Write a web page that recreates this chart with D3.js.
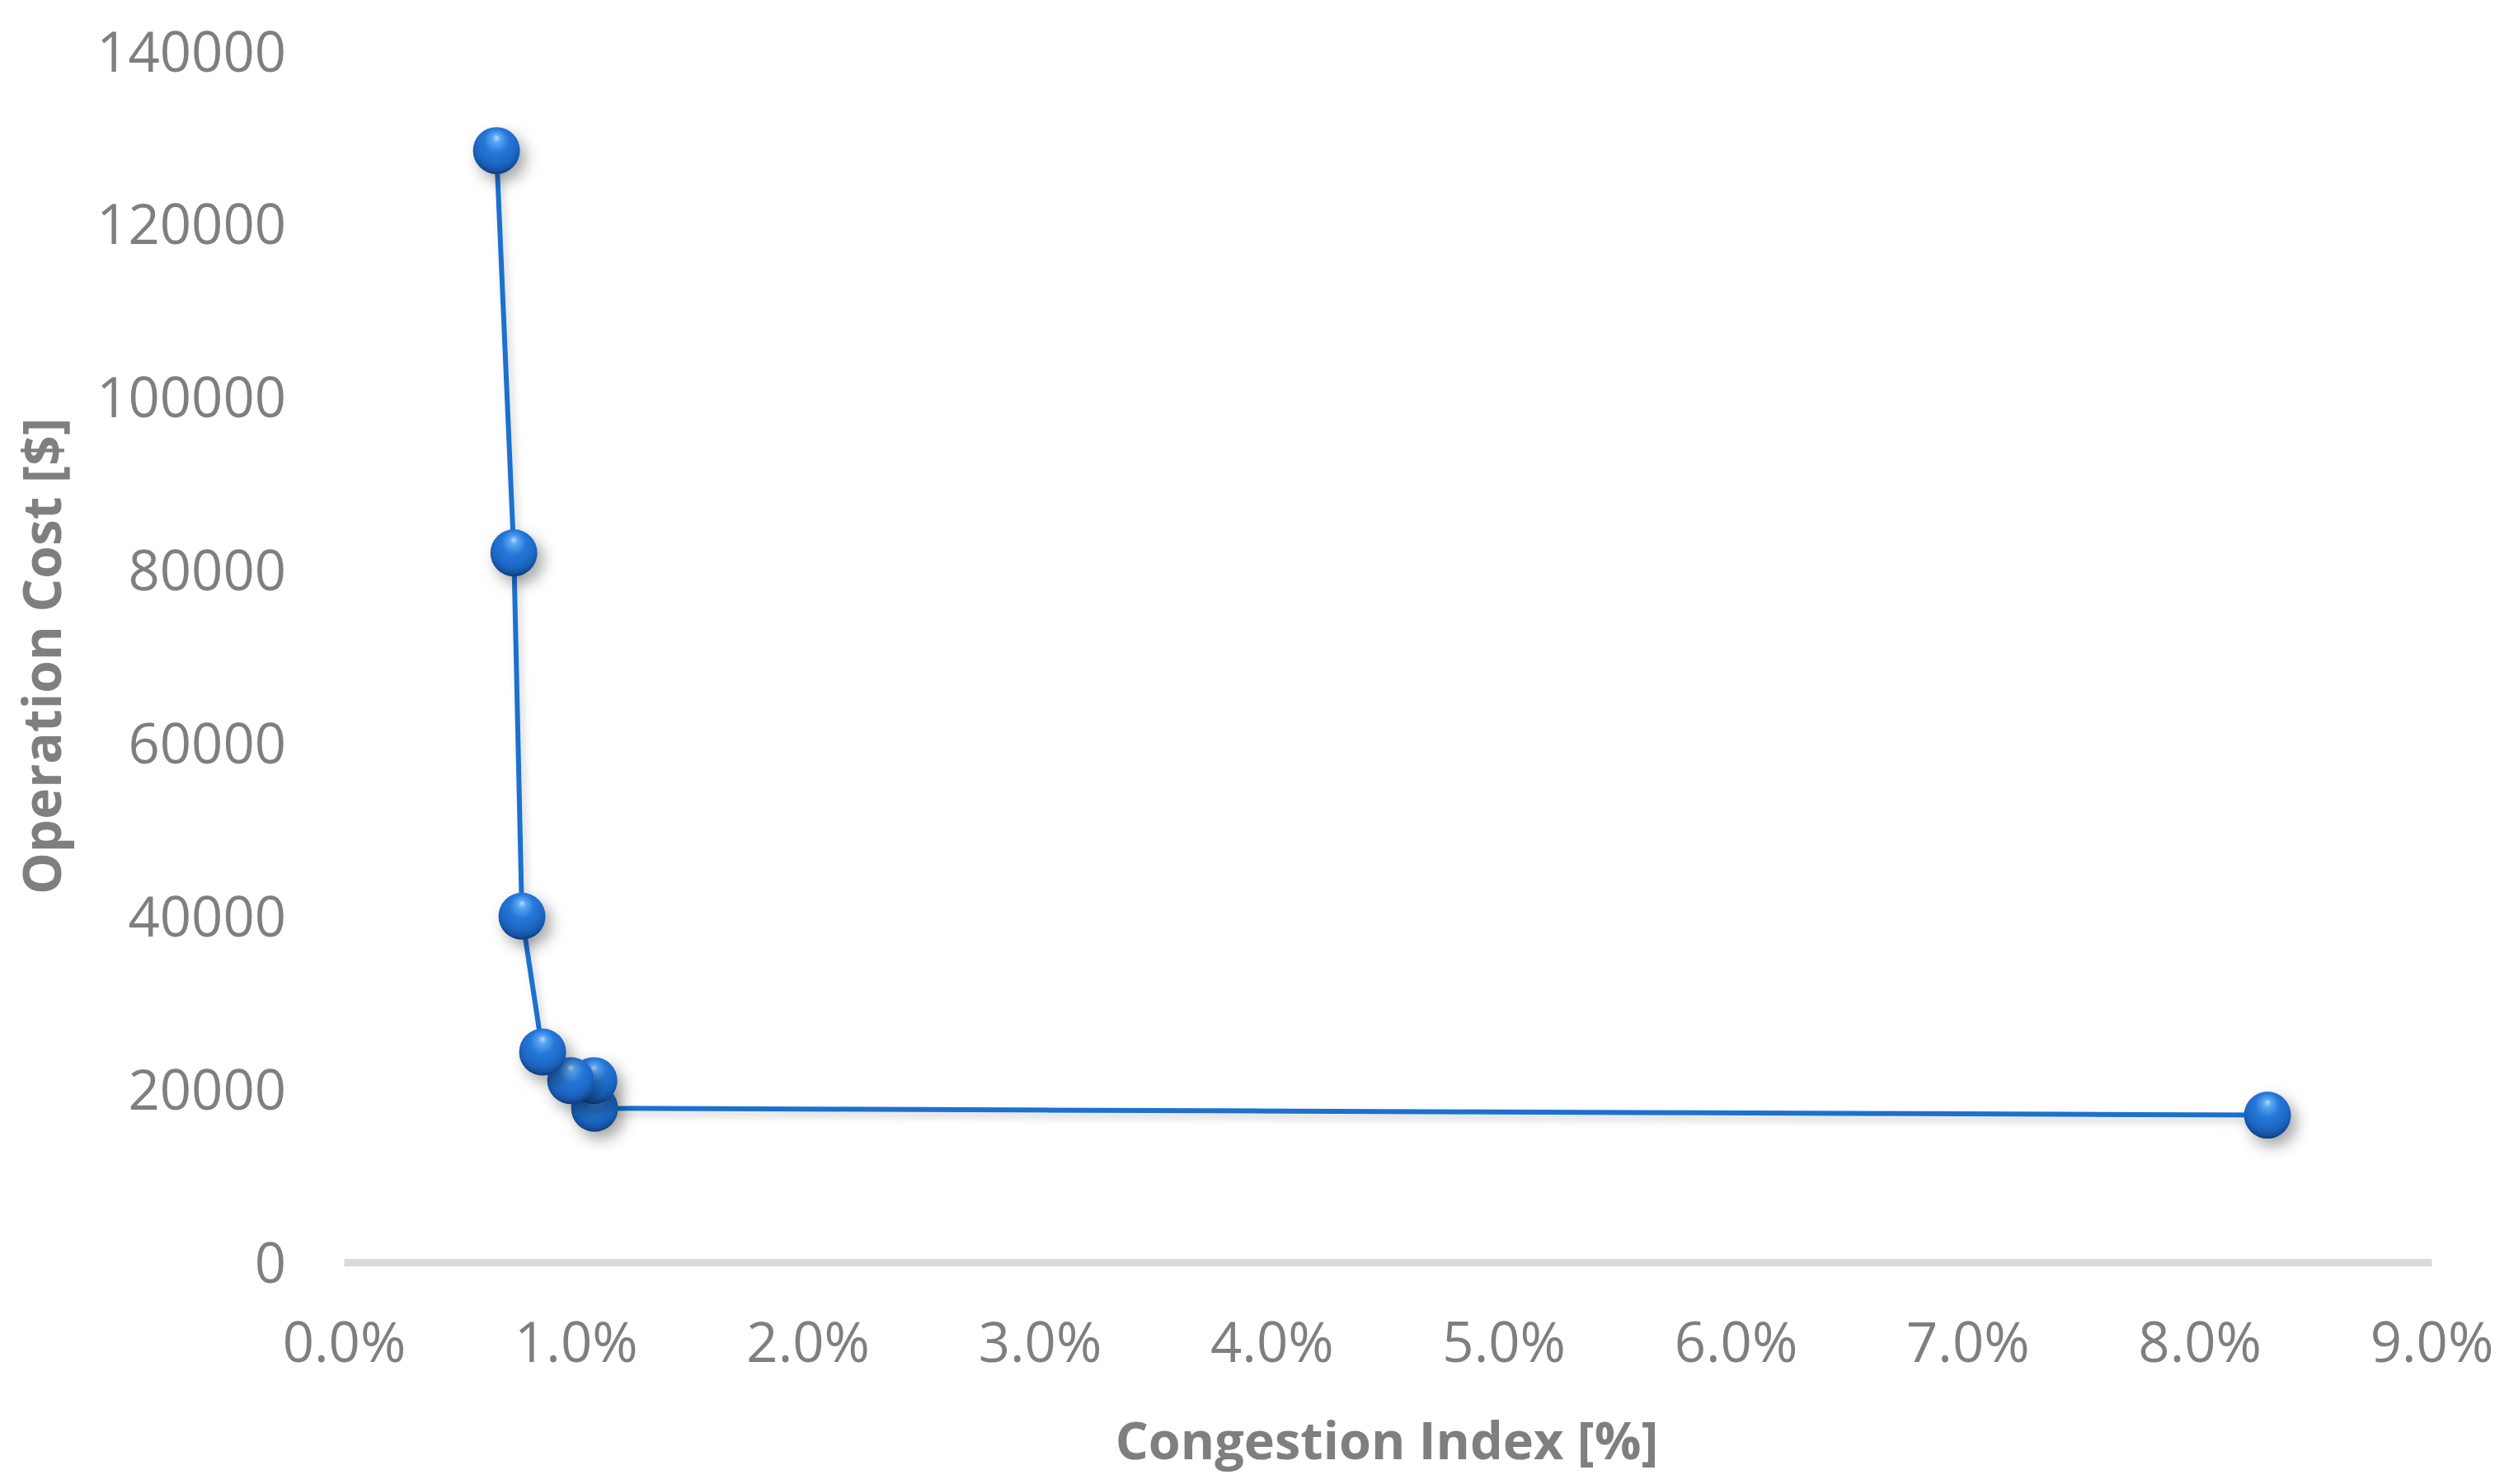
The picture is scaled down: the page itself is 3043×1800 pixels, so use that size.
<!DOCTYPE html>
<html>
<head>
<meta charset="utf-8">
<script src="https://cdn.jsdelivr.net/npm/d3@7"></script>
<style>
  body { margin: 0; background: #fff; }
  text { font-family: "Open Sans", "Noto Sans", sans-serif; fill: #7f7f7f; }
</style>
</head>
<body>
<div id="chart"></div>
<script>
// data
var congestion = [0.00658, 0.00733, 0.00768, 0.00857, 0.00978, 0.01078, 0.01081, 0.08293];
var cost = [128500, 82000, 40000, 24300, 21000, 21000, 17800, 17000];
var xTicks = [0, 0.01, 0.02, 0.03, 0.04, 0.05, 0.06, 0.07, 0.08, 0.09];
var yTicks = [0, 20000, 40000, 60000, 80000, 100000, 120000, 140000];

var data = congestion.map(function(c, i) { return {x: c, y: cost[i]}; });

var W = 3043, H = 1800;
var margin = {top: 62, right: 94, bottom: 269, left: 417},
    width = W - margin.left - margin.right,
    height = H - margin.top - margin.bottom;

var svgRoot = d3.select("#chart")
  .append("svg")
    .attr("width", W)
    .attr("height", H);

var defs = svgRoot.append("defs");

// sphere look for the markers
var grad = defs.append("radialGradient")
  .attr("id", "ball")
  .attr("cx", "50%").attr("cy", "38%")
  .attr("fx", "50%").attr("fy", "22%")
  .attr("r", "62%");
grad.append("stop").attr("offset", "0%").attr("stop-color", "#b4dcff");
grad.append("stop").attr("offset", "14%").attr("stop-color", "#5aa6f2");
grad.append("stop").attr("offset", "42%").attr("stop-color", "#2677d8");
grad.append("stop").attr("offset", "72%").attr("stop-color", "#1d68c6");
grad.append("stop").attr("offset", "88%").attr("stop-color", "#1756a8");
grad.append("stop").attr("offset", "100%").attr("stop-color", "#0d3a78");

var shadow = defs.append("filter")
  .attr("id", "shadow")
  .attr("x", "-60%").attr("y", "-60%")
  .attr("width", "220%").attr("height", "220%");
shadow.append("feDropShadow")
  .attr("dx", 7).attr("dy", 9)
  .attr("stdDeviation", 9)
  .attr("flood-color", "#000")
  .attr("flood-opacity", 0.35);

var lineShadow = defs.append("filter")
  .attr("id", "lineShadow")
  .attr("x", "-10%").attr("y", "-10%")
  .attr("width", "120%").attr("height", "120%");
lineShadow.append("feDropShadow")
  .attr("dx", 4).attr("dy", 6)
  .attr("stdDeviation", 5)
  .attr("flood-color", "#000")
  .attr("flood-opacity", 0.18);

var svg = svgRoot.append("g")
  .attr("transform", "translate(" + margin.left + "," + margin.top + ")");

// scales
var x = d3.scaleLinear()
  .domain([0, 0.09])
  .range([0, width]);

var y = d3.scaleLinear()
  .domain([0, 140000])
  .range([height, 0]);

// X axis
var xAxis = svg.append("g")
  .attr("transform", "translate(0," + height + ")")
  .call(d3.axisBottom(x).tickValues(xTicks).tickFormat(d3.format(".1%")).tickSize(0).tickSizeOuter(0));
xAxis.select(".domain")
  .attr("stroke", "#d9d9d9")
  .attr("stroke-width", 9);
xAxis.selectAll("text")
  .attr("y", 121)
  .attr("dy", null)
  .style("font-size", "67px")
  .style("font-family", "'Open Sans', sans-serif")
  .attr("fill", "#7f7f7f");

// Y axis
var yAxis = svg.append("g")
  .call(d3.axisLeft(y).tickValues(yTicks).tickFormat(d3.format("d")).tickSize(0).tickPadding(70));
yAxis.select(".domain").remove();
yAxis.selectAll("text")
  .attr("dy", "0.36em")
  .style("font-size", "67px")
  .style("font-family", "'Open Sans', sans-serif")
  .attr("fill", "#7f7f7f");

// axis titles
svg.append("text")
  .attr("x", 1682 - margin.left)
  .attr("y", 1770 - margin.top)
  .style("text-anchor", "middle")
  .style("font-size", "63px")
  .style("font-weight", "bold")
  .text("Congestion Index [%]");

svg.append("text")
  .attr("transform", "rotate(-90)")
  .attr("x", -(796 - margin.top))
  .attr("y", 74 - margin.left)
  .style("text-anchor", "middle")
  .style("font-size", "64px")
  .style("font-weight", "bold")
  .text("Operation Cost [$]");

// line
svg.append("path")
  .datum(data)
  .attr("fill", "none")
  .attr("stroke", "#1f70d0")
  .attr("stroke-width", 6)
  .attr("filter", "url(#lineShadow)")
  .attr("d", d3.line()
    .x(function(d) { return x(d.x); })
    .y(function(d) { return y(d.y); }));

// markers, earlier points on top
svg.append("g")
  .selectAll("circle")
  .data(data.slice().reverse())
  .enter()
  .append("circle")
    .attr("cx", function(d) { return x(d.x); })
    .attr("cy", function(d) { return y(d.y); })
    .attr("r", 28.5)
    .attr("fill", "url(#ball)")
    .attr("filter", "url(#shadow)");
</script>
</body>
</html>
